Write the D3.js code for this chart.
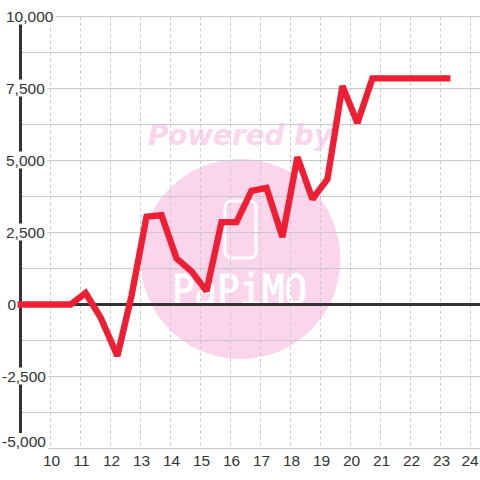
<!DOCTYPE html>
<html>
<head>
<meta charset="utf-8">
<script src="https://cdn.jsdelivr.net/npm/d3@7"></script>
<style>
    html, body { margin: 0; padding: 0; background: #fff; }
    svg { display: block; }
    text { font-family: "Liberation Sans", sans-serif; }
    .tick-label { font-size: 15.5px; fill: #333; }
</style>
</head>
<body>
<script>
var hours = [8.9, 10.67, 11.17, 11.67, 12.23, 12.7, 13.2, 13.7, 14.2, 14.7, 15.2, 15.7, 16.2, 16.7, 17.2, 17.73, 18.23, 18.73, 19.23, 19.73, 20.23, 20.73, 23.33];
var values = [0, 0, 400, -450, -1790, 300, 3050, 3100, 1600, 1150, 470, 2860, 2860, 3950, 4050, 2340, 5120, 3660, 4350, 7590, 6300, 7850, 7850];
var xTicks = [10, 11, 12, 13, 14, 15, 16, 17, 18, 19, 20, 21, 22, 23, 24];
var yTicks = [10000, 7500, 5000, 2500, 0, -2500, -5000];
var yTickLabels = ["10,000", "7,500", "5,000", "2,500", "0", "-2,500", "-5,000"];
var yGrid = [10000, 8750, 7500, 6250, 5000, 3750, 2500, 1250, -1250, -2500, -3750, -5000];

var width = 480;
var height = 480;

var xScale = d3.scaleLinear().domain([10, 24]).range([50.5, 470.5]);
var yScale = d3.scaleLinear().domain([-5000, 10000]).range([448.5, 16.5]);

var svg = d3.select("body")
    .append("svg")
    .attr("width", width)
    .attr("height", height);

// watermark
svg.append("circle")
    .attr("cx", 240.5)
    .attr("cy", 259)
    .attr("r", 100)
    .attr("fill", "#fbd5ec");

svg.append("text")
    .attr("x", 148)
    .attr("y", 144.5)
    .attr("textLength", 184)
    .attr("lengthAdjust", "spacingAndGlyphs")
    .style("font-family", "'DejaVu Sans', sans-serif")
    .style("font-size", "29px")
    .style("font-weight", "bold")
    .style("font-style", "italic")
    .attr("fill", "#fbd5ec")
    .text("Powered by");

svg.append("rect")
    .attr("x", 225)
    .attr("y", 201)
    .attr("width", 31)
    .attr("height", 57)
    .attr("rx", 6)
    .attr("fill", "none")
    .attr("stroke", "#fff")
    .attr("stroke-width", 3);

svg.append("text")
    .attr("x", 172)
    .attr("y", 305)
    .attr("textLength", 135)
    .attr("lengthAdjust", "spacingAndGlyphs")
    .style("font-family", "'DejaVu Sans Mono', monospace")
    .style("font-size", "42px")
    .attr("fill", "#fff")
    .attr("stroke", "#fff")
    .attr("stroke-width", 1)
    .text("PaPiMO");

// grid
svg.selectAll(".h-grid")
    .data(yGrid)
    .enter()
    .append("line")
    .attr("class", "h-grid")
    .attr("x1", 20)
    .attr("x2", width)
    .attr("y1", function(d) { return yScale(d); })
    .attr("y2", function(d) { return yScale(d); })
    .attr("stroke", "#c8c8c8")
    .attr("stroke-width", 1);

svg.selectAll(".v-grid")
    .data(xTicks)
    .enter()
    .append("line")
    .attr("class", "v-grid")
    .attr("x1", function(d) { return xScale(d); })
    .attr("x2", function(d) { return xScale(d); })
    .attr("y1", yScale(10000))
    .attr("y2", yScale(-5000))
    .attr("stroke", "#c8c8c8")
    .attr("stroke-dasharray", "3,3");

// axis lines
svg.append("line")
    .attr("x1", 20.5)
    .attr("x2", 20.5)
    .attr("y1", yScale(10000))
    .attr("y2", yScale(-5000))
    .attr("stroke", "#333")
    .attr("stroke-width", 3);

svg.append("line")
    .attr("x1", 20)
    .attr("x2", width)
    .attr("y1", yScale(0))
    .attr("y2", yScale(0))
    .attr("stroke", "#333")
    .attr("stroke-width", 3);

// y labels sit left aligned with a white box behind them, the last one is pushed up
var yLabels = svg.selectAll(".y-label")
    .data(yTicks)
    .enter()
    .append("g")
    .attr("class", "y-label");

yLabels.append("text")
    .attr("class", "tick-label")
    .attr("x", function(d) { return d < 0 ? 2 : (d === 0 ? 7.5 : 6); })
    .attr("y", function(d) {
        return (d === -5000 ? yScale(d) - 6.5 : yScale(d)) + 5;
    })
    .text(function(d, i) { return yTickLabels[i]; });

yLabels.filter(function(d) { return d !== 0; })
    .insert("rect", "text")
    .each(function() {
        var b = this.parentNode.querySelector("text").getBBox();
        d3.select(this)
            .attr("x", b.x)
            .attr("y", b.y)
            .attr("width", b.width + 2)
            .attr("height", b.height)
            .attr("fill", "#fff");
    });

svg.selectAll(".x-label")
    .data(xTicks)
    .enter()
    .append("text")
    .attr("class", "tick-label x-label")
    .attr("x", function(d) { return d === 24 ? 470 : xScale(d) + 1; })
    .attr("y", 466)
    .attr("text-anchor", "middle")
    .text(function(d) { return d; });

// line
var line = d3.line()
    .x(function(d, i) { return xScale(hours[i]); })
    .y(function(d) { return yScale(d); });

svg.append("path")
    .datum(values)
    .attr("d", line)
    .attr("fill", "none")
    .attr("stroke", "#f01e33")
    .attr("stroke-width", 6.4)
    .attr("stroke-linejoin", "miter")
    .attr("stroke-miterlimit", 2);
</script>
</body>
</html>
